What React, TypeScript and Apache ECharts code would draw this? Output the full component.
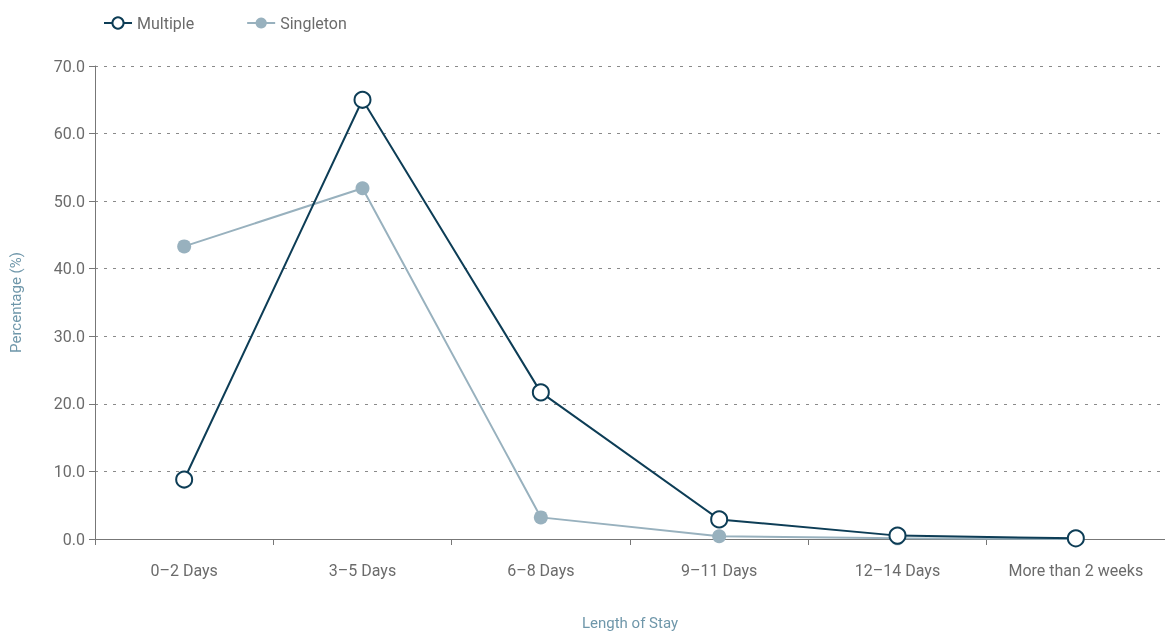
import React, { useEffect, useRef } from "react";
import * as echarts from "echarts";

const categories = ["0–2 Days", "3–5 Days", "6–8 Days", "9–11 Days", "12–14 Days", "More than 2 weeks"];
const multiple = [8.8, 65.0, 21.7, 2.9, 0.5, 0.1];
const singleton = [43.3, 51.9, 3.2, 0.4, 0.1, 0.0];
const yTicks = [0, 10, 20, 30, 40, 50, 60, 70];

export default function App() {
  const ref = useRef<HTMLDivElement>(null);
  useEffect(() => {
    if (!ref.current) return;
    const chart = echarts.init(ref.current, undefined, { renderer: "svg" });
    const font = "Roboto, 'Liberation Sans', sans-serif";
    chart.setOption({
      animation: false,
      textStyle: { fontFamily: font },
      legend: {
        left: 98,
        top: 10,
        itemWidth: 28,
        itemHeight: 14,
        itemGap: 52,
        textStyle: { color: "#6b6b6b", fontSize: 16, fontFamily: font },
        data: ["Multiple", "Singleton"],
      },
      grid: { left: 93, right: 0, top: 66, bottom: 91, containLabel: false },
      xAxis: {
        type: "category",
        data: categories,
        boundaryGap: true,
        name: "Length of Stay",
        nameLocation: "middle",
        nameGap: 76,
        nameTextStyle: { color: "#6f97aa", fontSize: 15, fontFamily: font },
        axisLine: { lineStyle: { color: "#777", width: 1 } },
        axisTick: { show: true, length: 6, lineStyle: { color: "#777" } },
        axisLabel: { color: "#6b6b6b", fontSize: 16, margin: 23, fontFamily: font },
      },
      yAxis: {
        type: "value",
        min: 0,
        max: 70,
        interval: 10,
        name: "Percentage (%)",
        nameLocation: "middle",
        nameGap: 72,
        nameTextStyle: { color: "#6f97aa", fontSize: 15, fontFamily: font },
        axisLine: { show: true, lineStyle: { color: "#777", width: 1 } },
        axisTick: { show: true, length: 6, lineStyle: { color: "#777" } },
        axisLabel: {
          color: "#6b6b6b",
          fontSize: 16,
          margin: 10,
          fontFamily: font,
          formatter: (v: number) => (yTicks.includes(v) ? v.toFixed(1) : ""),
        },
        splitLine: { show: true, lineStyle: { color: "#8a8a8a", type: [3, 6], width: 1 } },
      },
      series: [
        {
          name: "Singleton",
          type: "line",
          data: singleton,
          symbol: "circle",
          symbolSize: 14,
          z: 2,
          lineStyle: { color: "#98b1be", width: 2 },
          itemStyle: { color: "#98b1be", borderColor: "#98b1be", borderWidth: 0 },
        },
        {
          name: "Multiple",
          type: "line",
          data: multiple,
          symbol: "circle",
          symbolSize: 16,
          showAllSymbol: true,
          z: 3,
          lineStyle: { color: "#0d3d56", width: 2 },
          itemStyle: { color: "#ffffff", borderColor: "#0d3d56", borderWidth: 2 },
        },
      ],
    });
    return () => chart.dispose();
  }, []);
  return <div ref={ref} style={{ position: "fixed", left: 0, top: 0, width: 1165, height: 635 }} />;
}
